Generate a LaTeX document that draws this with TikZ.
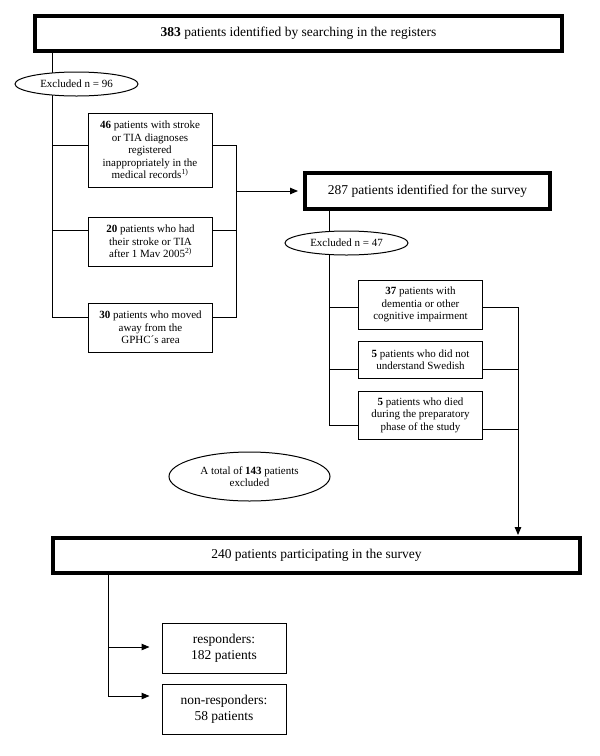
\documentclass[tikz,border=0pt]{standalone}
\usepackage{fontspec}
\setmainfont{Liberation Serif}
\usetikzlibrary{arrows.meta, shapes.geometric}

\begin{document}
\begin{tikzpicture}[x=1pt, y=-1pt,
  mainbox/.style={rectangle, draw, line width=4pt, minimum width=#1,
                  minimum height=35pt, inner sep=0pt,
                  font=\fontsize{13.5}{15.5}\selectfont},
  exbox/.style={rectangle, draw, line width=1pt, minimum width=124pt,
                minimum height=#1, inner sep=0pt, align=center,
                font=\fontsize{11}{12.5}\selectfont},
  resbox/.style={rectangle, draw, line width=1pt, minimum width=124pt,
                 minimum height=50pt, inner sep=0pt, align=center,
                 font=\fontsize{13.5}{15.5}\selectfont},
  exoval/.style={ellipse, draw, fill=white, line width=1pt, inner sep=0pt,
                 align=center, font=\fontsize{11}{12.5}\selectfont},
  link/.style={line width=1pt},
  flow/.style={-{Triangle[length=8pt, width=6.5pt]}, line width=1pt}
]
\useasboundingbox (0,0) rectangle (600,756);

% Main stages
\node[mainbox=527pt] (registers) at (298.5,33.5) {\textbf{383} patients identified by searching in the registers};
\node[mainbox=245pt, minimum height=36pt] (survey) at (427.5,191) {287 patients identified for the survey};
\node[mainbox=527pt] (participants) at (316.5,555.5) {240 patients participating in the survey};

% First exclusions
\node[exbox=74pt] (wrongdiag) at (150,150) {\textbf{46} patients with stroke\\or TIA diagnoses\\registered\\inappropriately in the\\medical records\textsuperscript{1)}};
\node[exbox=49pt] (laterstroke) at (150.5,241.5) {\textbf{20} patients who had\\their stroke or TIA\\after 1 Mav 2005\textsuperscript{2)}};
\node[exbox=49pt] (movedaway) at (150.5,327.5) {\textbf{30} patients who moved\\away from the\\GPHC´s area};

% Second exclusions
\node[exbox=49pt] (dementia) at (420.5,304.5) {\textbf{37} patients with\\dementia or other\\cognitive impairment};
\node[exbox=37pt] (swedish) at (420.5,359.5) {\textbf{5} patients who did not\\understand Swedish};
\node[exbox=48pt] (died) at (420.5,415) {\textbf{5} patients who died\\during the preparatory\\phase of the study};

% Outcome
\node[resbox] (responders) at (224,648) {responders:\\182 patients};
\node[resbox] (nonresponders) at (224,709) {non-responders:\\58 patients};

% Trunks and joints
\coordinate (trunkA) at (52,0);
\coordinate (trunkB) at (236,0);
\coordinate (trunkC) at (329,0);
\coordinate (trunkD) at (518,0);
\coordinate (trunkE) at (108,0);
\coordinate (w46) at ([yshift=5pt]wrongdiag.west);
\coordinate (e46) at ([yshift=5pt]wrongdiag.east);
\coordinate (w20) at ([yshift=11.5pt]laterstroke.west);
\coordinate (e20) at ([yshift=11.5pt]laterstroke.east);
\coordinate (w30) at ([yshift=10.5pt]movedaway.west);
\coordinate (e30) at ([yshift=10.5pt]movedaway.east);
\coordinate (wdem) at ([yshift=-2.5pt]dementia.west);
\coordinate (edem) at ([yshift=-2.5pt]dementia.east);
\coordinate (wswe) at ([yshift=-9.5pt]swedish.west);
\coordinate (eswe) at ([yshift=-9.5pt]swedish.east);
\coordinate (wdied) at ([yshift=-10pt]died.west);
\coordinate (edied) at ([yshift=-14pt]died.east);
\coordinate (wresp) at ([yshift=1pt]responders.west);
\coordinate (wnon) at ([yshift=13pt]nonresponders.west);

% Registers to survey
\draw[link] (registers.south -| trunkA) |- (w30);
\draw[link] (w46) -- (w46 -| trunkA);
\draw[link] (w20) -- (w20 -| trunkA);
\draw[link] (e46) -| (e30 -| trunkB) -- (e30);
\draw[link] (e20) -- (e20 -| trunkB);
\draw[flow, shorten >=5pt] (survey.west -| trunkB) -- (survey.west);

% Survey to participants
\draw[link] (survey.south -| trunkC) |- (wdied);
\draw[link] (wdem) -- (wdem -| trunkC);
\draw[link] (wswe) -- (wswe -| trunkC);
\draw[flow, shorten >=1pt] (edem) -| (participants.north -| trunkD);
\draw[link] (eswe) -- (eswe -| trunkD);
\draw[link] (edied) -- (edied -| trunkD);

% Participants to responders
\draw[flow, shorten >=12pt] (participants.south -| trunkE) |- (wnon);
\draw[flow, shorten >=12pt] (wresp -| trunkE) -- (wresp);

% Exclusion counts
\node[exoval, minimum width=123pt, minimum height=24pt] (excludedA) at (76.5,84) {Excluded n = 96};
\node[exoval, minimum width=123pt, minimum height=24pt] (excludedB) at (346.5,243) {Excluded n = 47};
\node[exoval, minimum width=161pt, minimum height=49pt] (excludedTotal) at (249.5,476.5) {A total of \textbf{143} patients\\excluded};

\end{tikzpicture}
\end{document}
